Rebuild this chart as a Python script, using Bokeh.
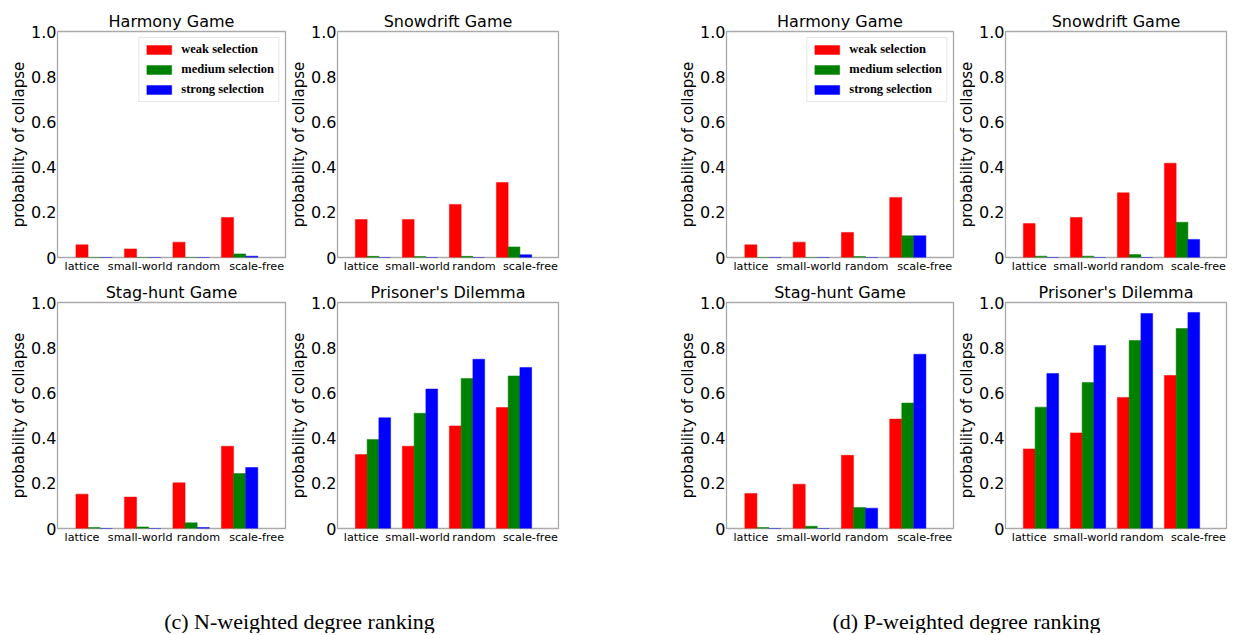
import numpy as np
from bokeh.plotting import figure
from bokeh.models import Range1d, FixedTicker, ColumnDataSource
from bokeh.layouts import column, row
from bokeh.embed import file_html
from bokeh.resources import INLINE
from bokeh.core.properties import value

# ---------------- data ----------------
networks = ["lattice", "small-world", "random", "scale-free"]
series = ["weak selection", "medium selection", "strong selection"]
colors = ["#ff0000", "#008000", "#0000ff"]
games = ["Harmony Game", "Snowdrift Game", "Stag-hunt Game", "Prisoner's Dilemma"]
y_ticks = [0, 0.2, 0.4, 0.6, 0.8, 1.0]
y_tick_labels = ["0", "0.2", "0.4", "0.6", "0.8", "1.0"]
x_ticks = [0, 1.2, 2.4, 3.6]
captions = ["(c) N-weighted degree ranking", "(d) P-weighted degree ranking"]

# (c) N-weighted degree ranking
n_harmony_weak = [0.056, 0.038, 0.068, 0.177]
n_harmony_medium = [0.0, 0.0, 0.0, 0.016]
n_harmony_strong = [0.0, 0.0, 0.0, 0.006]

n_snowdrift_weak = [0.168, 0.168, 0.235, 0.332]
n_snowdrift_medium = [0.005, 0.004, 0.005, 0.047]
n_snowdrift_strong = [0.0, 0.0, 0.0, 0.012]

n_staghunt_weak = [0.152, 0.139, 0.202, 0.364]
n_staghunt_medium = [0.004, 0.007, 0.025, 0.243]
n_staghunt_strong = [0.0, 0.0, 0.004, 0.270]

n_pd_weak = [0.327, 0.364, 0.454, 0.535]
n_pd_medium = [0.394, 0.510, 0.664, 0.675]
n_pd_strong = [0.490, 0.617, 0.749, 0.712]

# (d) P-weighted degree ranking
p_harmony_weak = [0.056, 0.068, 0.111, 0.265]
p_harmony_medium = [0.0, 0.0, 0.004, 0.096]
p_harmony_strong = [0.0, 0.0, 0.0, 0.096]

p_snowdrift_weak = [0.150, 0.177, 0.286, 0.417]
p_snowdrift_medium = [0.006, 0.006, 0.013, 0.156]
p_snowdrift_strong = [0.0, 0.0, 0.0, 0.080]

p_staghunt_weak = [0.155, 0.196, 0.324, 0.484]
p_staghunt_medium = [0.004, 0.010, 0.093, 0.555]
p_staghunt_strong = [0.0, 0.0, 0.090, 0.771]

p_pd_weak = [0.352, 0.423, 0.580, 0.677]
p_pd_medium = [0.537, 0.646, 0.832, 0.885]
p_pd_strong = [0.686, 0.810, 0.951, 0.956]

BAR_W = 0.25
FONT = "DejaVu Sans"


def make_panel(title, vals, width, height, bl, br, bt, bb, legend=False):
    p = figure(width=width, height=height,
               x_range=Range1d(-0.505, 4.196), y_range=Range1d(0, 1),
               output_backend="svg", toolbar_location=None,
               min_border_left=bl, min_border_right=br,
               min_border_top=bt, min_border_bottom=bb)
    p.title.text = title
    p.title.align = "center"
    p.title.text_font = FONT
    p.title.text_font_size = "16px"
    p.title.text_font_style = "normal"
    p.title.text_color = "black"
    p.title.standoff = 1

    base = np.arange(len(networks))
    for k, v in enumerate(vals):
        src = ColumnDataSource(dict(x=base + k * BAR_W, top=v))
        kw = dict(legend_label=series[k]) if legend else {}
        p.vbar(x="x", top="top", width=BAR_W, source=src,
               fill_color=colors[k], line_color=colors[k], line_width=0.5, **kw)

    p.grid.visible = False
    p.outline_line_color = "#aaaaaa"
    p.outline_line_width = 1.3

    for ax in (p.xaxis[0], p.yaxis[0]):
        ax.axis_line_color = None
        ax.major_tick_line_color = None
        ax.minor_tick_line_color = None
        ax.major_tick_out = 0
        ax.major_tick_in = 0
        ax.minor_tick_out = 0
        ax.minor_tick_in = 0
        ax.major_label_text_font = FONT
        ax.major_label_text_color = "black"

    xa = p.xaxis[0]
    xa.ticker = FixedTicker(ticks=x_ticks)
    xa.major_label_overrides = {t: n for t, n in zip(x_ticks, networks)}
    xa.major_label_text_font_size = "11.2px"
    xa.major_label_standoff = 2

    ya = p.yaxis[0]
    ya.ticker = FixedTicker(ticks=y_ticks)
    ya.major_label_overrides = {t: s for t, s in zip(y_ticks, y_tick_labels)}
    ya.major_label_text_font_size = "16px"
    ya.major_label_standoff = 1
    ya.axis_label = "probability of collapse"
    ya.axis_label_text_font = FONT
    ya.axis_label_text_font_size = "15px"
    ya.axis_label_text_font_style = "normal"
    ya.axis_label_text_color = "black"
    ya.axis_label_standoff = 0

    if legend:
        lg = p.legend[0]
        lg.location = "top_right"
        lg.margin = 6
        lg.padding = 4
        lg.spacing = 5
        lg.glyph_width = 31
        lg.glyph_height = 11
        lg.label_height = 13
        lg.label_standoff = 7
        lg.label_text_font = "Liberation Serif"
        lg.label_text_font_style = "bold"
        lg.label_text_font_size = "12.5px"
        lg.label_text_color = "black"
        lg.border_line_color = "#d0d0d0"
        lg.border_line_width = 1
        lg.background_fill_alpha = 1.0
    return p


H1, H2 = 278, 271
f1 = make_panel(games[0], [n_harmony_weak, n_harmony_medium, n_harmony_strong], 287, H1, 57, 2, 31, 21, legend=True)
f2 = make_panel(games[1], [n_snowdrift_weak, n_snowdrift_medium, n_snowdrift_strong], 389, H1, 43, 118, 31, 21)
f5 = make_panel(games[0], [p_harmony_weak, p_harmony_medium, p_harmony_strong], 279, H1, 49, 2, 31, 21, legend=True)
f6 = make_panel(games[1], [p_snowdrift_weak, p_snowdrift_medium, p_snowdrift_strong], 273, H1, 43, 2, 31, 21)

f3 = make_panel(games[2], [n_staghunt_weak, n_staghunt_medium, n_staghunt_strong], 287, H2, 57, 2, 24, 21)
f4 = make_panel(games[3], [n_pd_weak, n_pd_medium, n_pd_strong], 389, H2, 43, 118, 24, 21)
f7 = make_panel(games[2], [p_staghunt_weak, p_staghunt_medium, p_staghunt_strong], 279, H2, 49, 2, 24, 21)
f8 = make_panel(games[3], [p_pd_weak, p_pd_medium, p_pd_strong], 273, H2, 43, 2, 24, 21)

CAP_H = 84
cap = figure(width=1228, height=CAP_H, x_range=Range1d(0, 1228), y_range=Range1d(0, CAP_H),
             output_backend="svg", toolbar_location=None, min_border=0,
             x_axis_location=None, y_axis_location=None)
cap.grid.visible = False
cap.outline_line_color = None
cap.text(x=[299, 966], y=[12, 12], text=captions,
         text_font=value("Liberation Serif"), text_font_size="22px",
         text_align="center", text_baseline="middle", text_color="black")

layout = column(row(f1, f2, f5, f6), row(f3, f4, f7, f8), cap)
open("out.html", "w").write(file_html(layout, INLINE))
